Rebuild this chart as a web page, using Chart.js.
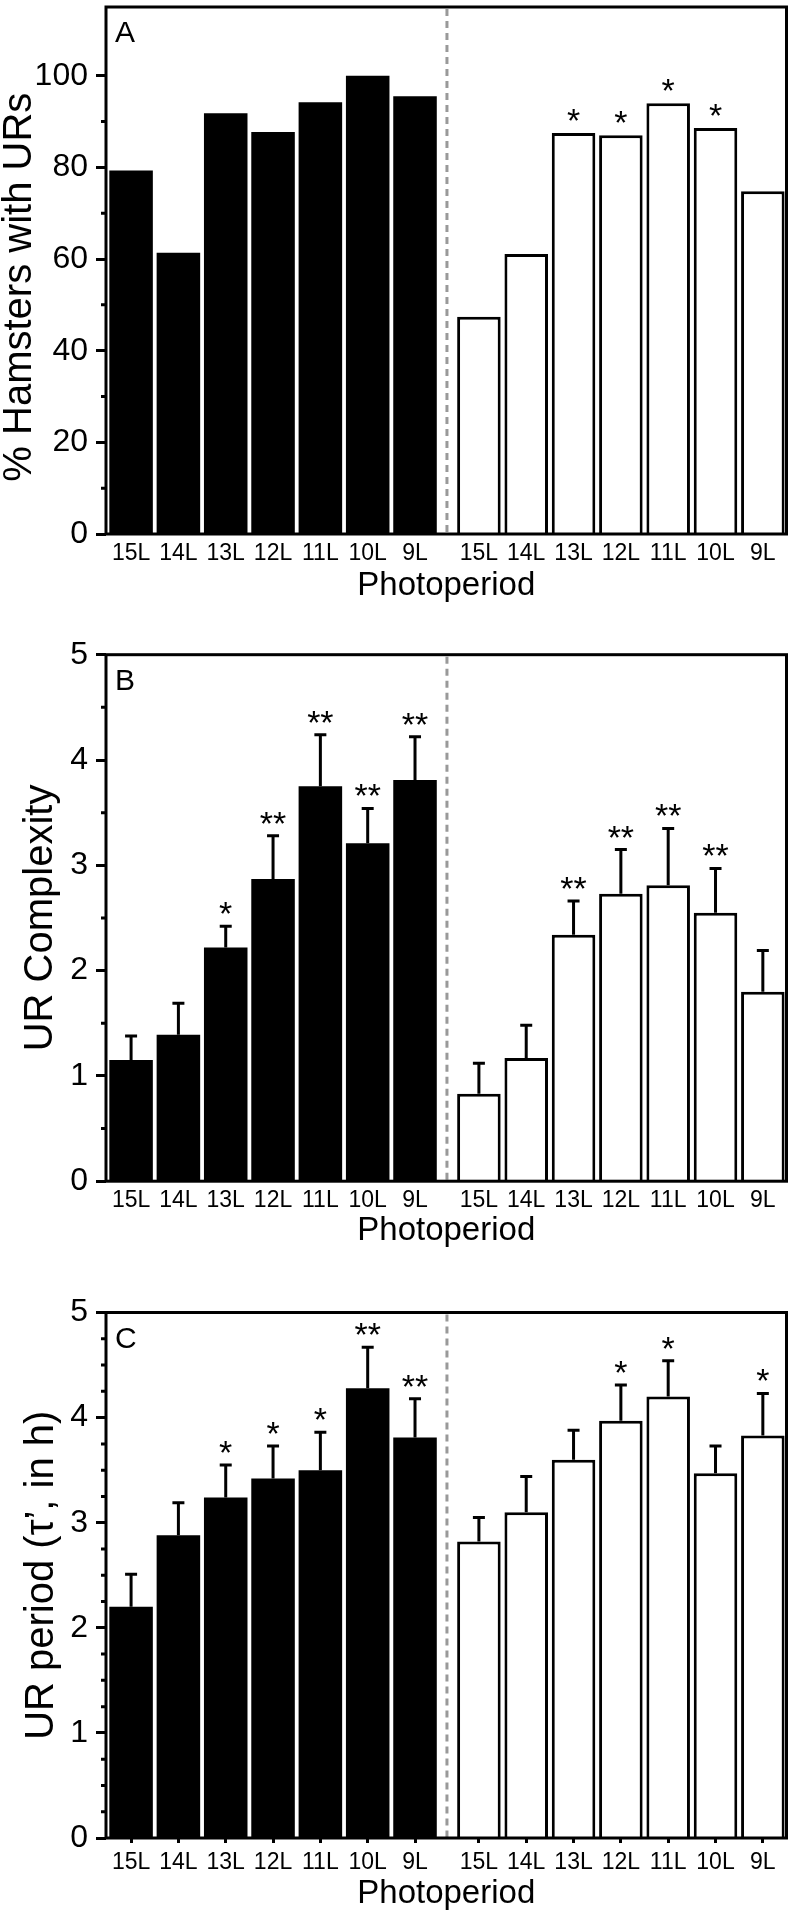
<!DOCTYPE html>
<html lang="en">
<head>
<meta charset="UTF-8">
<title>URs by photoperiod</title>
<script src="https://cdn.jsdelivr.net/npm/chart.js@4"></script>
<style>
  body { margin: 0; background: #fff; }
  canvas { position: absolute; left: 0; }
</style>
</head>
<body>
<canvas id="chartA" width="795" height="620" style="top:0px"></canvas>
<canvas id="chartB" width="795" height="640" style="top:620px"></canvas>
<canvas id="chartC" width="795" height="659" style="top:1260px"></canvas>

<script>
// photoperiods, same order in both groups
let photoperiods = ['15L', '14L', '13L', '12L', '11L', '10L', '9L'];

// panel A: % hamsters with URs
let pctBlack = [79.3, 61.4, 91.8, 87.7, 94.2, 100, 95.5];
let pctWhite = [47.4, 61.1, 87.5, 87.0, 94.0, 88.6, 74.8];
let pctStarsBlack = ['', '', '', '', '', '', ''];
let pctStarsWhite = ['', '', '*', '*', '*', '*', ''];
let pctTicks = [0, 20, 40, 60, 80, 100];
let pctMinor = [10, 30, 50, 70, 90];

// panel B: UR complexity, mean and sem
let cxBlack = [1.15, 1.39, 2.22, 2.87, 3.75, 3.21, 3.81];
let cxBlackSem = [0.23, 0.30, 0.20, 0.41, 0.49, 0.33, 0.41];
let cxWhite = [0.83, 1.17, 2.34, 2.73, 2.81, 2.55, 1.80];
let cxWhiteSem = [0.29, 0.31, 0.32, 0.42, 0.54, 0.42, 0.39];
let cxStarsBlack = ['', '', '*', '**', '**', '**', '**'];
let cxStarsWhite = ['', '', '**', '**', '**', '**', ''];
let cxTicks = [0, 1, 2, 3, 4, 5];
let cxMinor = [0.5, 1.5, 2.5, 3.5, 4.5];

// panel C: UR period (tau', in h), mean and sem
let perBlack = [2.20, 2.88, 3.24, 3.42, 3.50, 4.28, 3.81];
let perBlackSem = [0.31, 0.31, 0.31, 0.31, 0.36, 0.39, 0.37];
let perWhite = [2.82, 3.10, 3.60, 3.97, 4.20, 3.47, 3.83];
let perWhiteSem = [0.23, 0.34, 0.28, 0.34, 0.34, 0.26, 0.40];
let perStarsBlack = ['', '', '*', '*', '*', '**', '**'];
let perStarsWhite = ['', '', '', '*', '*', '', '*'];
let perTicks = [0, 1, 2, 3, 4, 5];
let perMinor = [0.25, 0.5, 0.75, 1.25, 1.5, 1.75, 2.25, 2.5, 2.75, 3.25, 3.5, 3.75, 4.25, 4.5, 4.75];

// the white group sits a little further right than one slot after the black one
const whiteShift = 7.35;
const gapPos = (photoperiods.length - 1 + whiteShift) / 2;
const xPositions = photoperiods.map((p, i) => i).concat(photoperiods.map((p, i) => i + whiteShift));
const xLabels = photoperiods.concat(photoperiods);

const sans = "'Liberation Sans', Arial, sans-serif";

// error bars, stars, the dashed divider, minor ticks, the box and the panel letter
const figurePlugin = {
    id: 'figure',
    afterDatasetsDraw(chart, args, opts) {
        const ctx = chart.ctx;
        const a = chart.chartArea;
        const xs = chart.scales.x;
        const ys = chart.scales.y;
        ctx.save();

        chart.data.datasets.forEach((ds, d) => {
            let meta = chart.getDatasetMeta(d);
            let sem = opts.sem ? opts.sem[d] : null;
            meta.data.forEach((bar, i) => {
                let top = ds.data[i].y;
                if (sem) {
                    top += sem[i];
                    let y0 = ys.getPixelForValue(ds.data[i].y);
                    let y1 = ys.getPixelForValue(top);
                    ctx.strokeStyle = '#000';
                    ctx.lineWidth = 3;
                    ctx.beginPath();
                    ctx.moveTo(bar.x, y0);
                    ctx.lineTo(bar.x, y1);
                    ctx.moveTo(bar.x - 6, y1);
                    ctx.lineTo(bar.x + 6, y1);
                    ctx.stroke();
                }
                let star = opts.stars[d][i];
                if (star) {
                    ctx.fillStyle = '#000';
                    ctx.font = '34px ' + sans;
                    ctx.textAlign = 'center';
                    ctx.textBaseline = 'alphabetic';
                    ctx.fillText(star, bar.x, ys.getPixelForValue(top) - 1);
                }
            });
        });

        // dashed divider between the two groups
        let gx = xs.getPixelForValue(gapPos);
        ctx.strokeStyle = '#999';
        ctx.lineWidth = 3;
        ctx.setLineDash([7, 5]);
        ctx.beginPath();
        ctx.moveTo(gx, a.top + 2);
        ctx.lineTo(gx, a.bottom);
        ctx.stroke();
        ctx.setLineDash([]);

        // minor y ticks
        ctx.strokeStyle = '#000';
        ctx.lineWidth = 3;
        ctx.beginPath();
        opts.minor.forEach(v => {
            let py = ys.getPixelForValue(v);
            ctx.moveTo(a.left - 5, py);
            ctx.lineTo(a.left, py);
        });
        ctx.stroke();

        // box
        ctx.strokeRect(a.left, a.top, a.right - a.left, a.bottom - a.top);

        // panel letter
        ctx.fillStyle = '#000';
        ctx.font = '30px ' + sans;
        ctx.textAlign = 'left';
        ctx.textBaseline = 'alphabetic';
        ctx.fillText(opts.letter, a.left + 9, a.top + 35);
        ctx.restore();
    }
};

function makePanel(id, p) {
    let ctx = document.getElementById(id).getContext('2d');
    let height = ctx.canvas.height;
    return new Chart(ctx, {
        type: 'bar',
        data: {
            datasets: [
                {
                    label: 'black',
                    data: p.black.map((v, i) => ({ x: i, y: v })),
                    backgroundColor: '#000',
                    borderWidth: 0
                },
                {
                    label: 'white',
                    data: p.white.map((v, i) => ({ x: i + whiteShift, y: v })),
                    backgroundColor: '#fff',
                    borderColor: '#000',
                    borderWidth: 3
                }
            ]
        },
        options: {
            responsive: false,
            animation: false,
            devicePixelRatio: 1,
            layout: { padding: { top: p.top, right: 8.5, bottom: 0, left: 0 } },
            datasets: { bar: { grouped: false, categoryPercentage: 1, barPercentage: 0.92 } },
            plugins: {
                legend: { display: false },
                tooltip: { enabled: false },
                figure: { letter: p.letter, sem: p.sem, stars: p.stars, minor: p.minor }
            },
            scales: {
                x: {
                    type: 'linear',
                    min: -0.53,
                    max: whiteShift + photoperiods.length - 0.5,
                    offset: false,
                    afterBuildTicks: s => { s.ticks = xPositions.map(v => ({ value: v })); },
                    afterFit: s => {
                        s.height = height - p.bottom;
                        s.paddingLeft = 0; s.paddingRight = 0;
                    },
                    border: { display: false },
                    grid: {
                        offset: false,
                        drawOnChartArea: false,
                        drawTicks: p.xTicks,
                        tickLength: 5,
                        tickWidth: 3,
                        tickColor: '#000'
                    },
                    ticks: {
                        autoSkip: false,
                        maxRotation: 0,
                        padding: p.xLabelPad,
                        color: '#000',
                        font: { family: sans, size: 23, lineHeight: 1 },
                        callback: (v, i) => xLabels[i]
                    },
                    title: {
                        display: true,
                        text: 'Photoperiod',
                        color: '#000',
                        font: { family: sans, size: 33, lineHeight: 1 },
                        padding: { top: 0, bottom: p.xTitlePad }
                    }
                },
                y: {
                    min: 0,
                    max: p.max,
                    afterBuildTicks: s => { s.ticks = p.ticks.map(v => ({ value: v })); },
                    afterFit: s => {
                        s.width = 106;
                        s.paddingTop = 0; s.paddingBottom = 0;
                    },
                    border: { display: false },
                    grid: {
                        drawOnChartArea: false,
                        tickLength: 10,
                        tickWidth: 3,
                        tickColor: '#000'
                    },
                    ticks: {
                        padding: 8,
                        color: '#000',
                        font: { family: sans, size: 32, lineHeight: 1 },
                        callback: v => String(v)
                    },
                    title: {
                        display: true,
                        text: p.yTitle,
                        color: '#000',
                        font: { family: sans, size: 40, lineHeight: 1 },
                        padding: { top: p.yTitlePad, bottom: 0 }
                    }
                }
            }
        },
        plugins: [figurePlugin]
    });
}

// the trailing no-break spaces push the first title a little down, as in the original
makePanel('chartA', {
    letter: 'A', black: pctBlack, white: pctWhite, sem: null,
    stars: [pctStarsBlack, pctStarsWhite], ticks: pctTicks, minor: pctMinor, max: 115,
    yTitle: '% Hamsters with URs\u00A0\u00A0\u00A0', top: 7, bottom: 534,
    xTicks: false, xLabelPad: 8.5, xTitlePad: 17.6, yTitlePad: 0
});

makePanel('chartB', {
    letter: 'B', black: cxBlack, white: cxWhite, sem: [cxBlackSem, cxWhiteSem],
    stars: [cxStarsBlack, cxStarsWhite], ticks: cxTicks, minor: cxMinor, max: 5,
    yTitle: 'UR Complexity', top: 34.7, bottom: 561.2,
    xTicks: false, xLabelPad: 7.8, xTitlePad: 12.5, yTitlePad: 21
});

makePanel('chartC', {
    letter: 'C', black: perBlack, white: perWhite, sem: [perBlackSem, perWhiteSem],
    stars: [perStarsBlack, perStarsWhite], ticks: perTicks, minor: perMinor, max: 5,
    yTitle: 'UR period (\u03C4\u2019, in h)', top: 52.5, bottom: 578,
    xTicks: true, xLabelPad: 8, xTitlePad: 8.9, yTitlePad: 22
});
</script>
</body>
</html>
